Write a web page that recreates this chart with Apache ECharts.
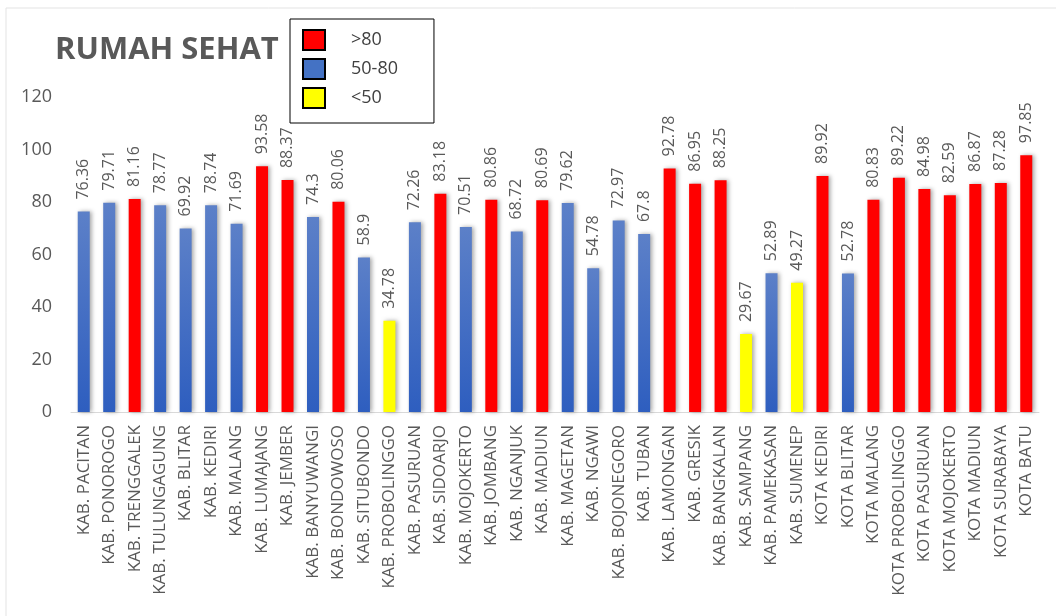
<!DOCTYPE html>
<html>
<head>
<meta charset="utf-8">
<script src="https://cdn.jsdelivr.net/npm/echarts@6/dist/echarts.min.js"></script>
<style>html,body{margin:0;padding:0;background:#fff;}#c{width:1056px;height:616px;}</style>
</head>
<body>
<div id="c"></div>
<script>
var categories = ["KAB. PACITAN","KAB. PONOROGO","KAB. TRENGGALEK","KAB. TULUNGAGUNG","KAB. BLITAR","KAB. KEDIRI","KAB. MALANG","KAB. LUMAJANG","KAB. JEMBER","KAB. BANYUWANGI","KAB. BONDOWOSO","KAB. SITUBONDO","KAB. PROBOLINGGO","KAB. PASURUAN","KAB. SIDOARJO","KAB. MOJOKERTO","KAB. JOMBANG","KAB. NGANJUK","KAB. MADIUN","KAB. MAGETAN","KAB. NGAWI","KAB. BOJONEGORO","KAB. TUBAN","KAB. LAMONGAN","KAB. GRESIK","KAB. BANGKALAN","KAB. SAMPANG","KAB. PAMEKASAN","KAB. SUMENEP","KOTA KEDIRI","KOTA BLITAR","KOTA MALANG","KOTA PROBOLINGGO","KOTA PASURUAN","KOTA MOJOKERTO","KOTA MADIUN","KOTA SURABAYA","KOTA BATU"];
var values = [76.36,79.71,81.16,78.77,69.92,78.74,71.69,93.58,88.37,74.3,80.06,58.9,34.78,72.26,83.18,70.51,80.86,68.72,80.69,79.62,54.78,72.97,67.8,92.78,86.95,88.25,29.67,52.89,49.27,89.92,52.78,80.83,89.22,84.98,82.59,86.87,87.28,97.85];
var groupNames = [">80","50-80","<50"];
var yTicks = [0,20,40,60,80,100,120];

var chart = echarts.init(document.getElementById('c'));
var TXT = '#595959';
var FONT = 'Open Sans';

function pick(test){ return values.map(function(v){ return test(v) ? v : '-'; }); }
var dataRed = pick(function(v){ return v > 80; });
var dataBlue = pick(function(v){ return v >= 50 && v <= 80; });
var dataYellow = pick(function(v){ return v < 50; });

var shadow = {shadowBlur: 4, shadowColor: 'rgba(0,0,0,0.35)', shadowOffsetX: 2, shadowOffsetY: 0};
var lbl = {show: true, position: 'top', rotate: 90, align: 'left', verticalAlign: 'middle', distance: 12, color: TXT, fontSize: 16, fontFamily: FONT};

function mkSeries(name, data, color){
  return {
    name: name, type: 'bar', stack: 'all', data: data, barWidth: 12,
    itemStyle: Object.assign({color: color}, shadow),
    label: lbl,
    emphasis: {disabled: true}
  };
}

var blueGrad = new echarts.graphic.LinearGradient(0,0,0,1,[{offset:0,color:'#5c80c8'},{offset:1,color:'#2e5ebf'}]);

chart.setOption({
  animation: false,
  backgroundColor: '#fff',
  textStyle: {fontFamily: FONT},
  graphic: [{type:'rect', shape:{x:6, y:8, width:1200, height:800}, style:{fill:'none', stroke:'#e3e3e3', lineWidth:1}, silent:true, z:-1}],
  title: {text: 'RUMAH SEHAT', left: 50, top: 30, textStyle: {fontSize: 31, fontWeight: 'bold', color: TXT, fontFamily: FONT}},
  legend: {
    orient: 'vertical', left: 290, top: 19,
    padding: [10, 36, 14, 12], itemGap: 7, itemWidth: 22, itemHeight: 20,
    borderColor: '#000', borderWidth: 1,
    icon: 'rect',
    itemStyle: {borderColor: '#000', borderWidth: 2, shadowBlur: 0, shadowOffsetX: 0, shadowColor: 'transparent'},
    textStyle: {fontSize: 18, color: '#404040', fontFamily: FONT, padding: [0,0,0,21]},
    data: [{name: groupNames[0], itemStyle:{color:'#ff0000'}}, {name: groupNames[1], itemStyle:{color:'#4472c4'}}, {name: groupNames[2], itemStyle:{color:'#ffff00'}}],
    selectedMode: false
  },
  grid: {left: 71, right: 17, top: 97, bottom: 204},
  xAxis: {
    type: 'category', data: categories,
    axisLine: {lineStyle: {color: '#d9d9d9', width: 1}},
    axisTick: {show: false},
    axisLabel: {rotate: 90, interval: 0, color: TXT, fontSize: 17, fontFamily: FONT, margin: 13}
  },
  yAxis: {
    type: 'value', min: yTicks[0], max: yTicks[yTicks.length-1], interval: 20,
    axisLine: {show: false}, axisTick: {show: false}, splitLine: {show: false},
    axisLabel: {color: TXT, fontSize: 18, fontFamily: FONT, margin: 19}
  },
  series: [
    mkSeries(groupNames[0], dataRed, '#ff0000'),
    mkSeries(groupNames[1], dataBlue, blueGrad),
    mkSeries(groupNames[2], dataYellow, '#ffff00')
  ]
});
</script>
</body>
</html>
